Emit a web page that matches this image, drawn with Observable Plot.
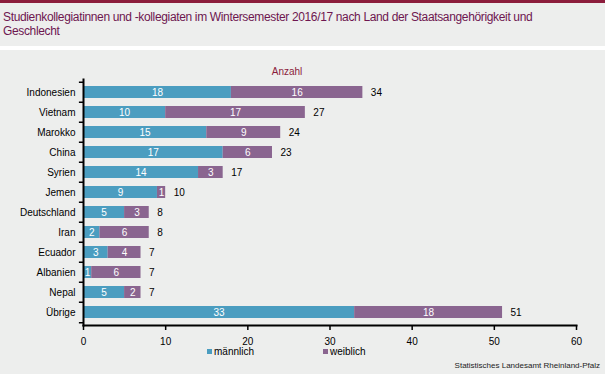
<!DOCTYPE html>
<html><head><meta charset="utf-8">
<script src="https://cdn.jsdelivr.net/npm/d3@7"></script>
<script src="https://cdn.jsdelivr.net/npm/@observablehq/plot@0.6"></script>
<style>
html,body{margin:0;padding:0;}
#wrap{position:relative;width:605px;height:374px;background:#edeeed;font-family:"Liberation Sans",Arial,sans-serif;overflow:hidden;}
#topbar{position:absolute;left:0;top:0;width:605px;height:3px;background:#8c1d3c;}
#title{position:absolute;left:3px;top:10px;font-size:12px;line-height:14px;color:#6e1650;letter-spacing:-0.35px;}
#sep{position:absolute;left:0;top:46px;width:605px;height:4px;background:#fff;}
#chart{position:absolute;left:0;top:50px;}
#anz{position:absolute;left:287px;top:66px;transform:translateX(-50%);font-size:10px;color:#8c1d3c;}
#legend{position:absolute;top:346px;left:0;font-size:10px;color:#000;}
.li{position:absolute;white-space:nowrap;display:flex;align-items:center;}
.sw{width:5px;height:5px;margin-right:2px;}
#src{position:absolute;right:5px;top:361px;font-size:8px;color:#222;}
</style></head>
<body><div id="wrap">
<div id="topbar"></div>
<div id="title">Studienkollegiatinnen und -kollegiaten im Wintersemester 2016/17 nach Land der Staatsangehörigkeit und<br>Geschlecht</div>
<div id="sep"></div>
<div id="chart"></div>
<div id="anz">Anzahl</div>
<div id="legend"></div>
<div id="src">Statistisches Landesamt Rheinland-Pfalz</div>
</div>
<script>
const countries = ["Indonesien","Vietnam","Marokko","China","Syrien","Jemen","Deutschland","Iran","Ecuador","Albanien","Nepal","Übrige"];
const maennlich = [18,10,15,17,14,9,5,2,3,1,5,33];
const weiblich  = [16,17,9,6,3,1,3,6,4,6,2,18];
const series = ["männlich","weiblich"];
const colors = ["#4b9dc0","#8a6590"];
const xTicks = [0,10,20,30,40,50,60];

const data = [];
countries.forEach((c,i)=>{
  data.push({country:c, sex:series[0], value:maennlich[i]});
  data.push({country:c, sex:series[1], value:weiblich[i]});
});
const totals = countries.map((c,i)=>({country:c, total:maennlich[i]+weiblich[i]}));

const W = 605, H = 295, mT = 29, mB = 20, mL = 83, mR = 29;
const step = (H - mT - mB) / countries.length;

const plot = Plot.plot({
  width: W, height: H,
  marginTop: mT, marginBottom: mB, marginLeft: mL, marginRight: mR,
  style: {background: "transparent", fontFamily: "Liberation Sans, Arial, sans-serif", fontSize: "10px", color: "#000", overflow: "visible"},
  x: {domain: [0, 60], ticks: xTicks},
  y: {domain: countries, paddingInner: 0.4, paddingOuter: 0.2},
  color: {domain: series, range: colors},
  marks: [
    Plot.barX(data, Plot.stackX({y: "country", x: "value", fill: "sex", order: series})),
    Plot.text(data, Plot.stackX({y: "country", x: "value", z: "sex", order: series, text: d => String(d.value), fill: "white", fontSize: 10})),
    Plot.text(totals, {y: "country", x: "total", text: d => String(d.total), textAnchor: "start", dx: 8, fill: "#000", fontSize: 10}),
    Plot.ruleY(countries, {y: d => d, x1: 0, x2: -0.5, dy: -step/2, stroke: "#000", strokeWidth: 1.5}),
    Plot.ruleY(countries.slice(-1), {y: d => d, x1: 0, x2: -0.5, dy: step/2, stroke: "#000", strokeWidth: 1.5}),
    Plot.axisY({tickSize: 0, tickPadding: 8, label: null, fontSize: 10}),
    Plot.axisX({tickSize: 5, tickPadding: 7, label: null, fontSize: 10, strokeWidth: 1.5}),
    Plot.frame({anchor: "left", stroke: "#000", strokeWidth: 2}),
    Plot.frame({anchor: "bottom", stroke: "#000", strokeWidth: 2})
  ]
});
document.getElementById("chart").appendChild(plot);

const legendPos = [207, 323];
const leg = document.getElementById("legend");
series.forEach((s,i)=>{
  const d = document.createElement("div");
  d.className = "li";
  d.style.left = legendPos[i] + "px";
  d.innerHTML = `<span class="sw" style="background:${colors[i]}"></span><span>${s}</span>`;
  leg.appendChild(d);
});
</script>
</body></html>
